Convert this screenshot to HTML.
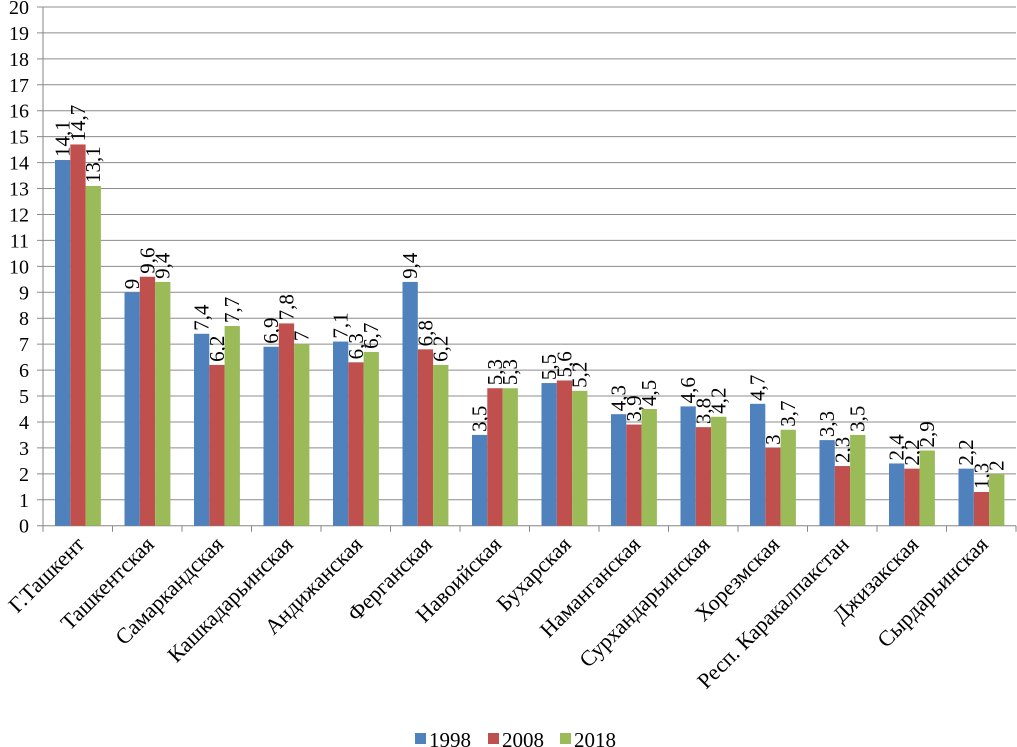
<!DOCTYPE html>
<html><head><meta charset="utf-8"><style>
html,body{margin:0;padding:0;background:#fff;}
svg{display:block;font-family:"Liberation Serif",serif;}
</style></head><body>
<svg id="chart" width="1017" height="747" viewBox="0 0 1017 747"></svg>
<script>
const categories=["Г.Ташкент","Ташкентская","Самаркандская","Кашкадарьинская","Андижанская","Ферганская","Навоийская","Бухарская","Наманганская","Сурхандарьинская","Хорезмская","Респ. Каракалпакстан","Джизакская","Сырдарьинская"];
const s1998=[14.1,9,7.4,6.9,7.1,9.4,3.5,5.5,4.3,4.6,4.7,3.3,2.4,2.2];
const s2008=[14.7,9.6,6.2,7.8,6.3,6.8,5.3,5.6,3.9,3.8,3,2.3,2.2,1.3];
const s2018=[13.1,9.4,7.7,7,6.7,6.2,5.3,5.2,4.5,4.2,3.7,3.5,2.9,2];
const seriesNames=["1998","2008","2018"];
const yTicks=[0,1,2,3,4,5,6,7,8,9,10,11,12,13,14,15,16,17,18,19,20];

const NS="http://www.w3.org/2000/svg";
const svg=document.getElementById('chart');
const colors=["#4f81bd","#c0504d","#9bbb59"];
const series=[s1998,s2008,s2018];
const x0=43,x1=1016,y0=525.7,yTop=7;
const catW=(x1-x0)/categories.length;
const barW=15.3;
function y(v){return y0-(y0-yTop)*v/20;}
function cx(i){return x0+catW*i;}
function mk(t,a,p){const e=document.createElementNS(NS,t);for(const k in a)e.setAttribute(k,a[k]);(p||svg).appendChild(e);return e;}

const grid=mk('g',{});


yTicks.forEach(t=>{
  const l=mk('line',{x1:37,x2:x1,y1:y(t),y2:y(t),stroke:t===0?'#868686':'#8c8c8c','stroke-width':1},grid);
  
  
  const tx=mk('text',{x:29,y:y(t)+7,'text-anchor':'end','font-size':20,fill:'#000'});
  tx.textContent=t;
  
  
});
const ax=mk('line',{x1:x0,x2:x0,y1:yTop,y2:y0,stroke:'#868686'});


for(let i=0;i<=categories.length;i++){
  const tk=mk('line',{x1:cx(i),x2:cx(i),y1:y0,y2:y0+6,stroke:'#868686'});
  
  
}
categories.forEach((c,i)=>{
  series.forEach((s,k)=>{
    const bx=cx(i)+12+k*barW;
    const r=mk('rect',{x:bx,y:y(s[i]),width:barW,height:y0-y(s[i]),fill:colors[k]});
    
    
    const lx=bx+barW/2+7, ly=y(s[i])-3;
    const t=mk('text',{x:lx,y:ly,'font-size':21,transform:`rotate(-90 ${lx} ${ly})`});
    t.textContent=String(s[i]).replace('.',',');
    
    
  });
  const tx=cx(i)+catW/2+8, ty=y0+20;
  const t=mk('text',{x:tx,y:ty,'font-size':22,'text-anchor':'end',transform:`rotate(-45 ${tx} ${ty})`});
  t.textContent=c;
  
  
});
const lg=mk('g',{});


const lxs=[415,488,560];
seriesNames.forEach((n,k)=>{
  const r=mk('rect',{x:lxs[k],y:733,width:11,height:11,fill:colors[k]},lg);
  
  
  const t=mk('text',{x:lxs[k]+14,y:747,'font-size':21},lg);
  t.textContent=n;
  
  
});
</script>
</body></html>
